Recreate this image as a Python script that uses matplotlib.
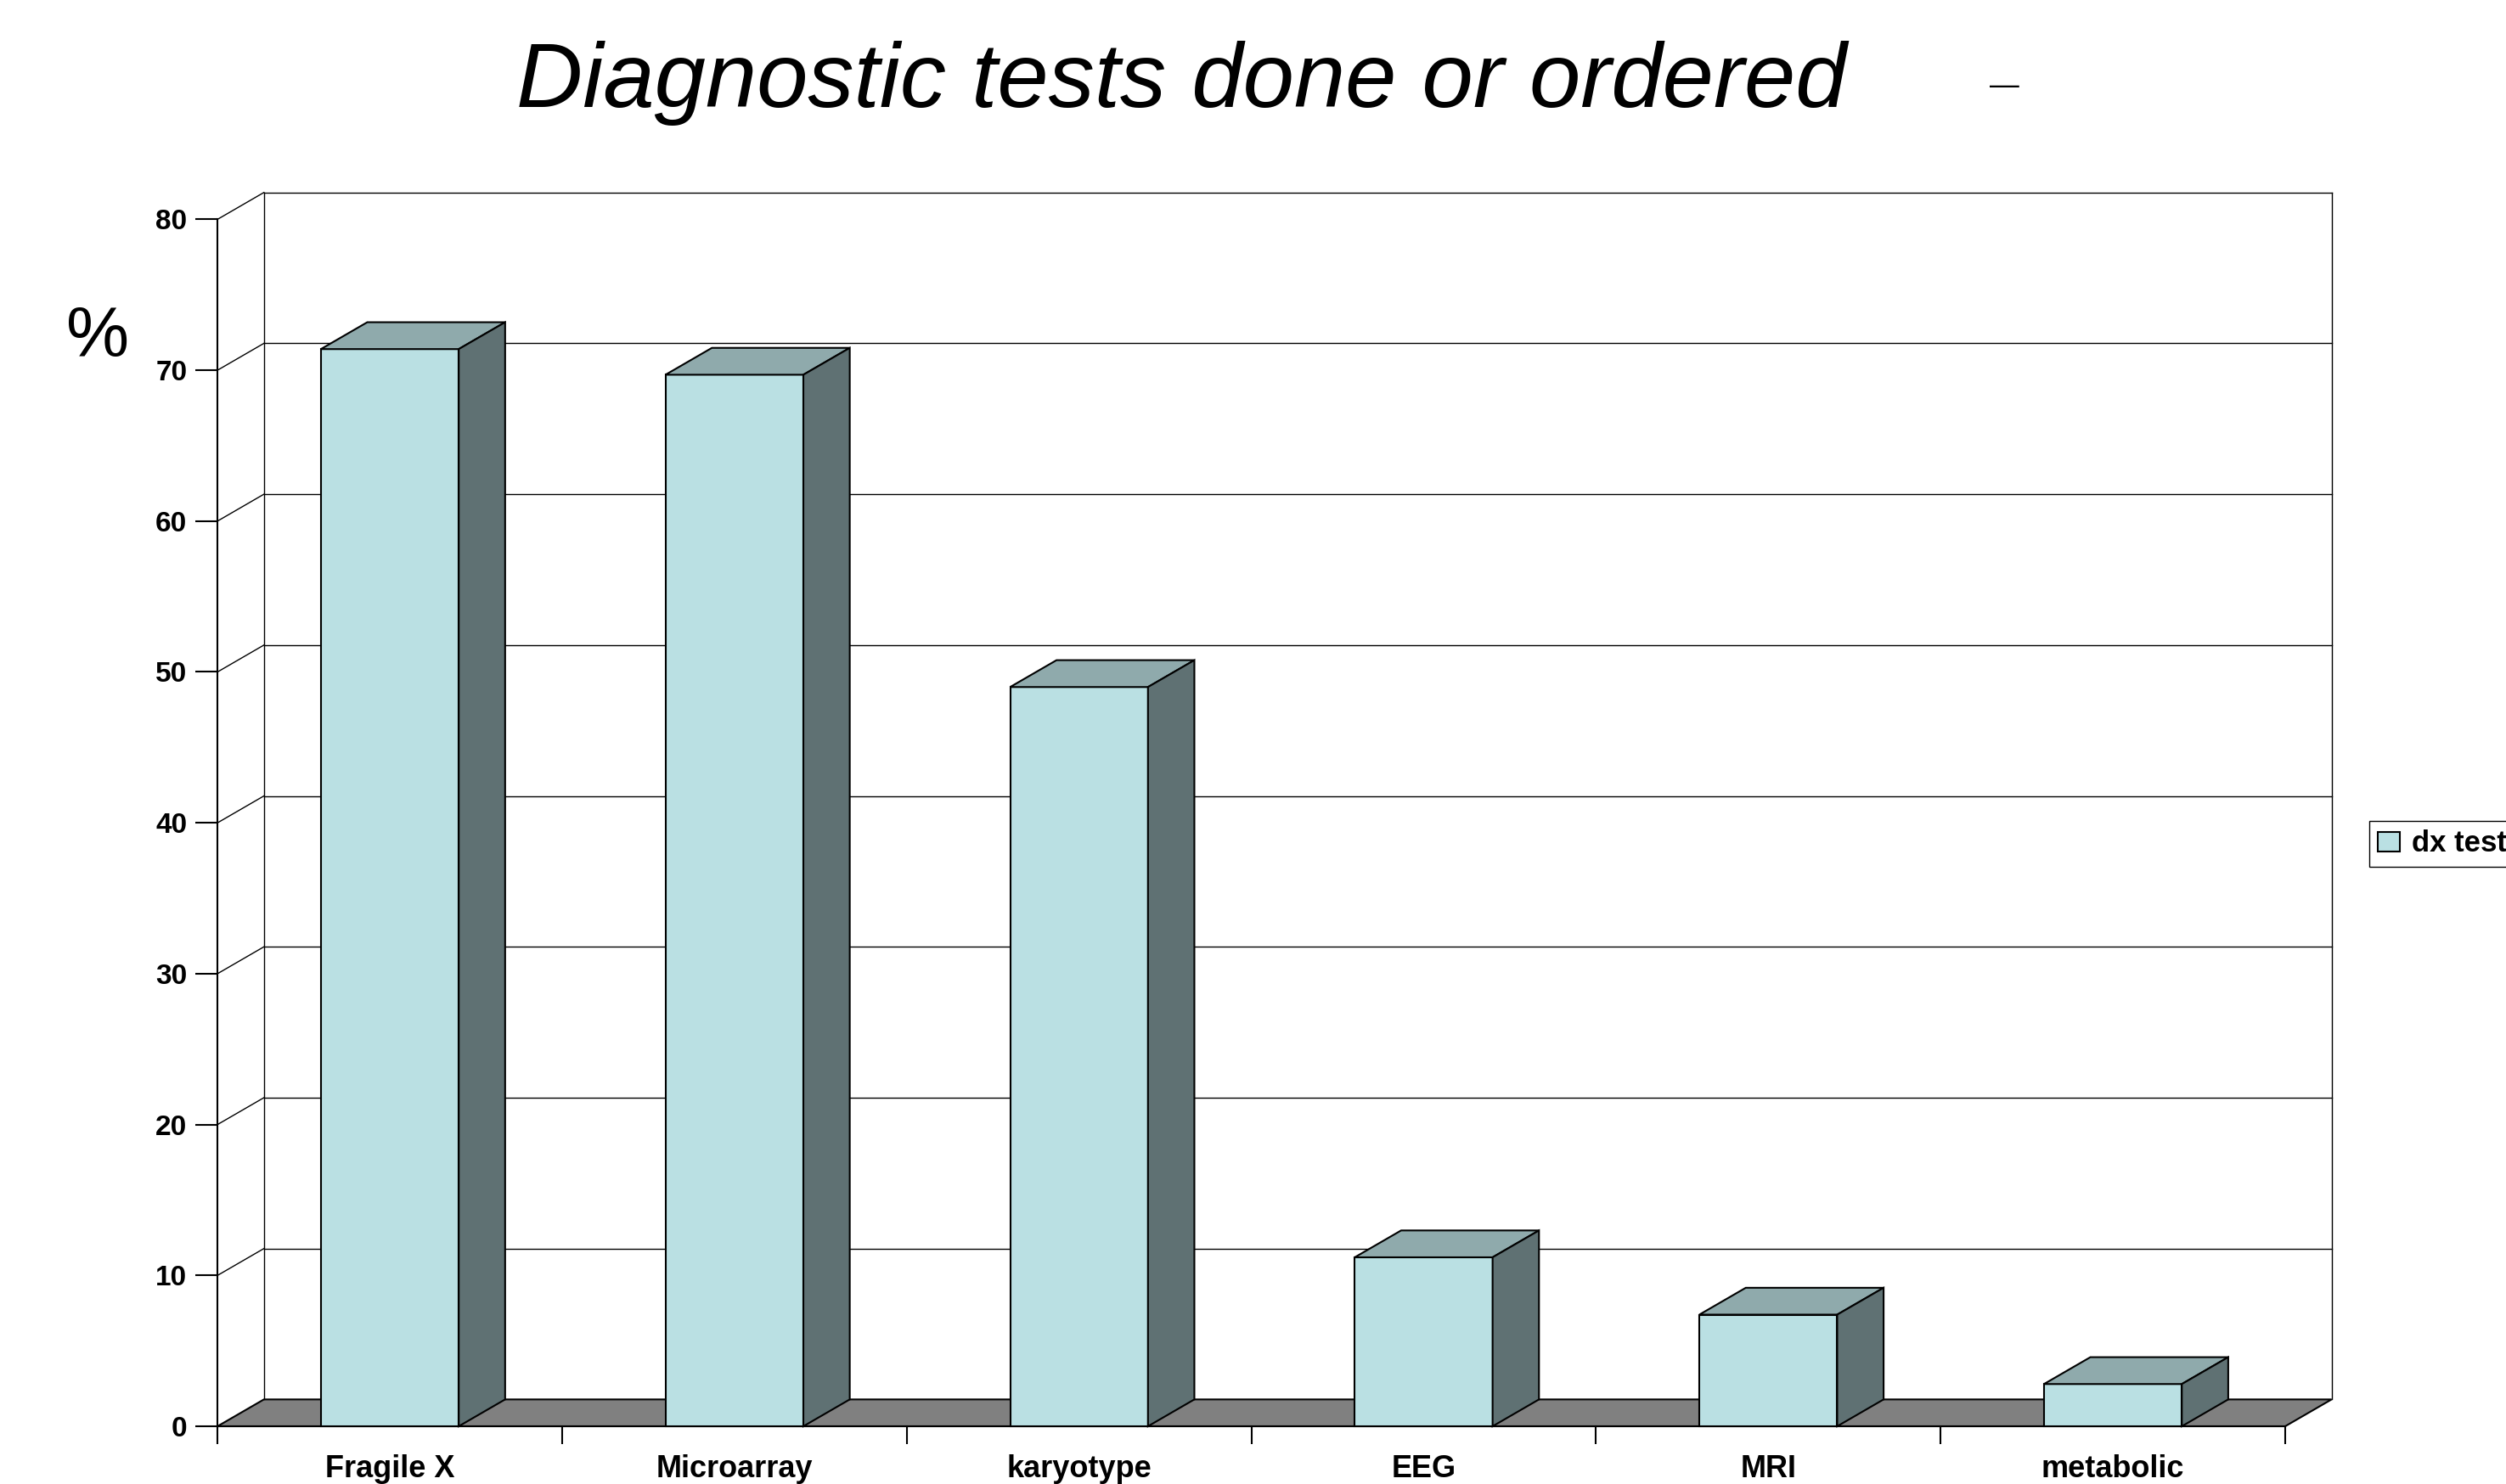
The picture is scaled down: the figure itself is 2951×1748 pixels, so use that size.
import matplotlib
matplotlib.use('Agg')
import matplotlib.pyplot as plt
from matplotlib.patches import Polygon, Patch

# Chart data
categories = ['Fragile X', 'Microarray', 'karyotype', 'EEG', 'MRI', 'metabolic']
percent_values = [71.4, 69.7, 49.0, 11.2, 7.4, 2.8]
y_ticks = [0, 10, 20, 30, 40, 50, 60, 70, 80]
series_name = 'dx tests'

# Colours of the old-style 3D column chart
front_color = '#BAE0E3'
top_color = '#8FAAAC'
side_color = '#5F7173'
floor_color = '#808080'

# Depth of the fake 3D box, in data units (category slots / percent)
depth_x = 0.1346
depth_y = 1.78
bar_width = 0.4

plt.rcParams['font.family'] = ['Liberation Sans', 'DejaVu Sans']

fig = plt.figure(figsize=(29.51, 17.48), dpi=100)
ax = fig.add_axes([0.0868, 0.0389, 0.8251, 0.8133])
ax.set_xlim(0, len(categories))
ax.set_ylim(0, y_ticks[-1])
ax.patch.set_visible(False)

n = len(categories)
y_top = y_ticks[-1]

# Floor of the chart
floor = Polygon([(0, 0), (n, 0), (n + depth_x, depth_y), (depth_x, depth_y)],
                closed=True, facecolor=floor_color, edgecolor='black',
                linewidth=1.5, zorder=1, clip_on=False)
ax.add_patch(floor)

# Back wall grid lines and side wall diagonals
for v in y_ticks[1:]:
    ax.plot([depth_x, n + depth_x], [v + depth_y, v + depth_y],
            color='black', linewidth=1.0, zorder=1.5, clip_on=False)
    ax.plot([0, depth_x], [v, v + depth_y],
            color='black', linewidth=1.0, zorder=1.5, clip_on=False)
ax.plot([depth_x, depth_x], [depth_y, y_top + depth_y],
        color='black', linewidth=1.0, zorder=1.5, clip_on=False)
ax.plot([n + depth_x, n + depth_x], [depth_y, y_top + depth_y],
        color='black', linewidth=1.0, zorder=1.5, clip_on=False)

# Columns: front face, top face, side face
for i, value in enumerate(percent_values):
    x0 = i + 0.5 - bar_width / 2
    x1 = i + 0.5 + bar_width / 2
    front = Polygon([(x0, 0), (x1, 0), (x1, value), (x0, value)],
                    facecolor=front_color, edgecolor='black', linewidth=1.5,
                    zorder=3, clip_on=False)
    top = Polygon([(x0, value), (x1, value), (x1 + depth_x, value + depth_y),
                   (x0 + depth_x, value + depth_y)],
                  facecolor=top_color, edgecolor='black', linewidth=1.5,
                  zorder=3, clip_on=False)
    side = Polygon([(x1, 0), (x1 + depth_x, depth_y),
                    (x1 + depth_x, value + depth_y), (x1, value)],
                   facecolor=side_color, edgecolor='black', linewidth=1.5,
                   zorder=3, clip_on=False)
    ax.add_patch(front)
    ax.add_patch(top)
    ax.add_patch(side)

# Axes, ticks and labels
ax.spines['top'].set_visible(False)
ax.spines['right'].set_visible(False)
ax.spines['left'].set_linewidth(1.5)
ax.spines['bottom'].set_linewidth(1.5)

ax.set_yticks(y_ticks)
ax.set_yticklabels([str(t) for t in y_ticks], fontweight='bold')
ax.tick_params(axis='y', length=18.7, width=1.5, pad=7, labelsize=24)

ax.set_xticks(range(n + 1))
ax.set_xticklabels([])
ax.set_xticks([i + 0.5 for i in range(n)], minor=True)
ax.set_xticklabels(categories, minor=True, fontweight='bold')
ax.tick_params(axis='x', which='major', length=15, width=1.5)
ax.tick_params(axis='x', which='minor', length=0, pad=24, labelsize=26)

# Title, stray dash and the % unit label
fig.text(0.4715, 0.928, 'Diagnostic tests done or ordered', ha='center',
         va='baseline', fontsize=78, style='italic')
fig.text(0.7998, 0.9365, '\u2014', ha='center', va='baseline', fontsize=25)
fig.text(0.039, 0.7725, '%', ha='center', va='center', fontsize=60)

# Legend, cut off by the right edge as in the original
fig.legend(handles=[Patch(facecolor=front_color, edgecolor='black',
                          linewidth=1.5)],
           labels=[series_name], loc='upper left',
           bbox_to_anchor=(2790 / 2951, 1 - 967 / 1748), borderaxespad=0,
           borderpad=0.3, handlelength=0.75, handleheight=0.65,
           handletextpad=0.4, fancybox=False, edgecolor='black',
           framealpha=1, prop={'size': 25, 'weight': 'bold'})

fig.savefig('out.png', dpi=100)
